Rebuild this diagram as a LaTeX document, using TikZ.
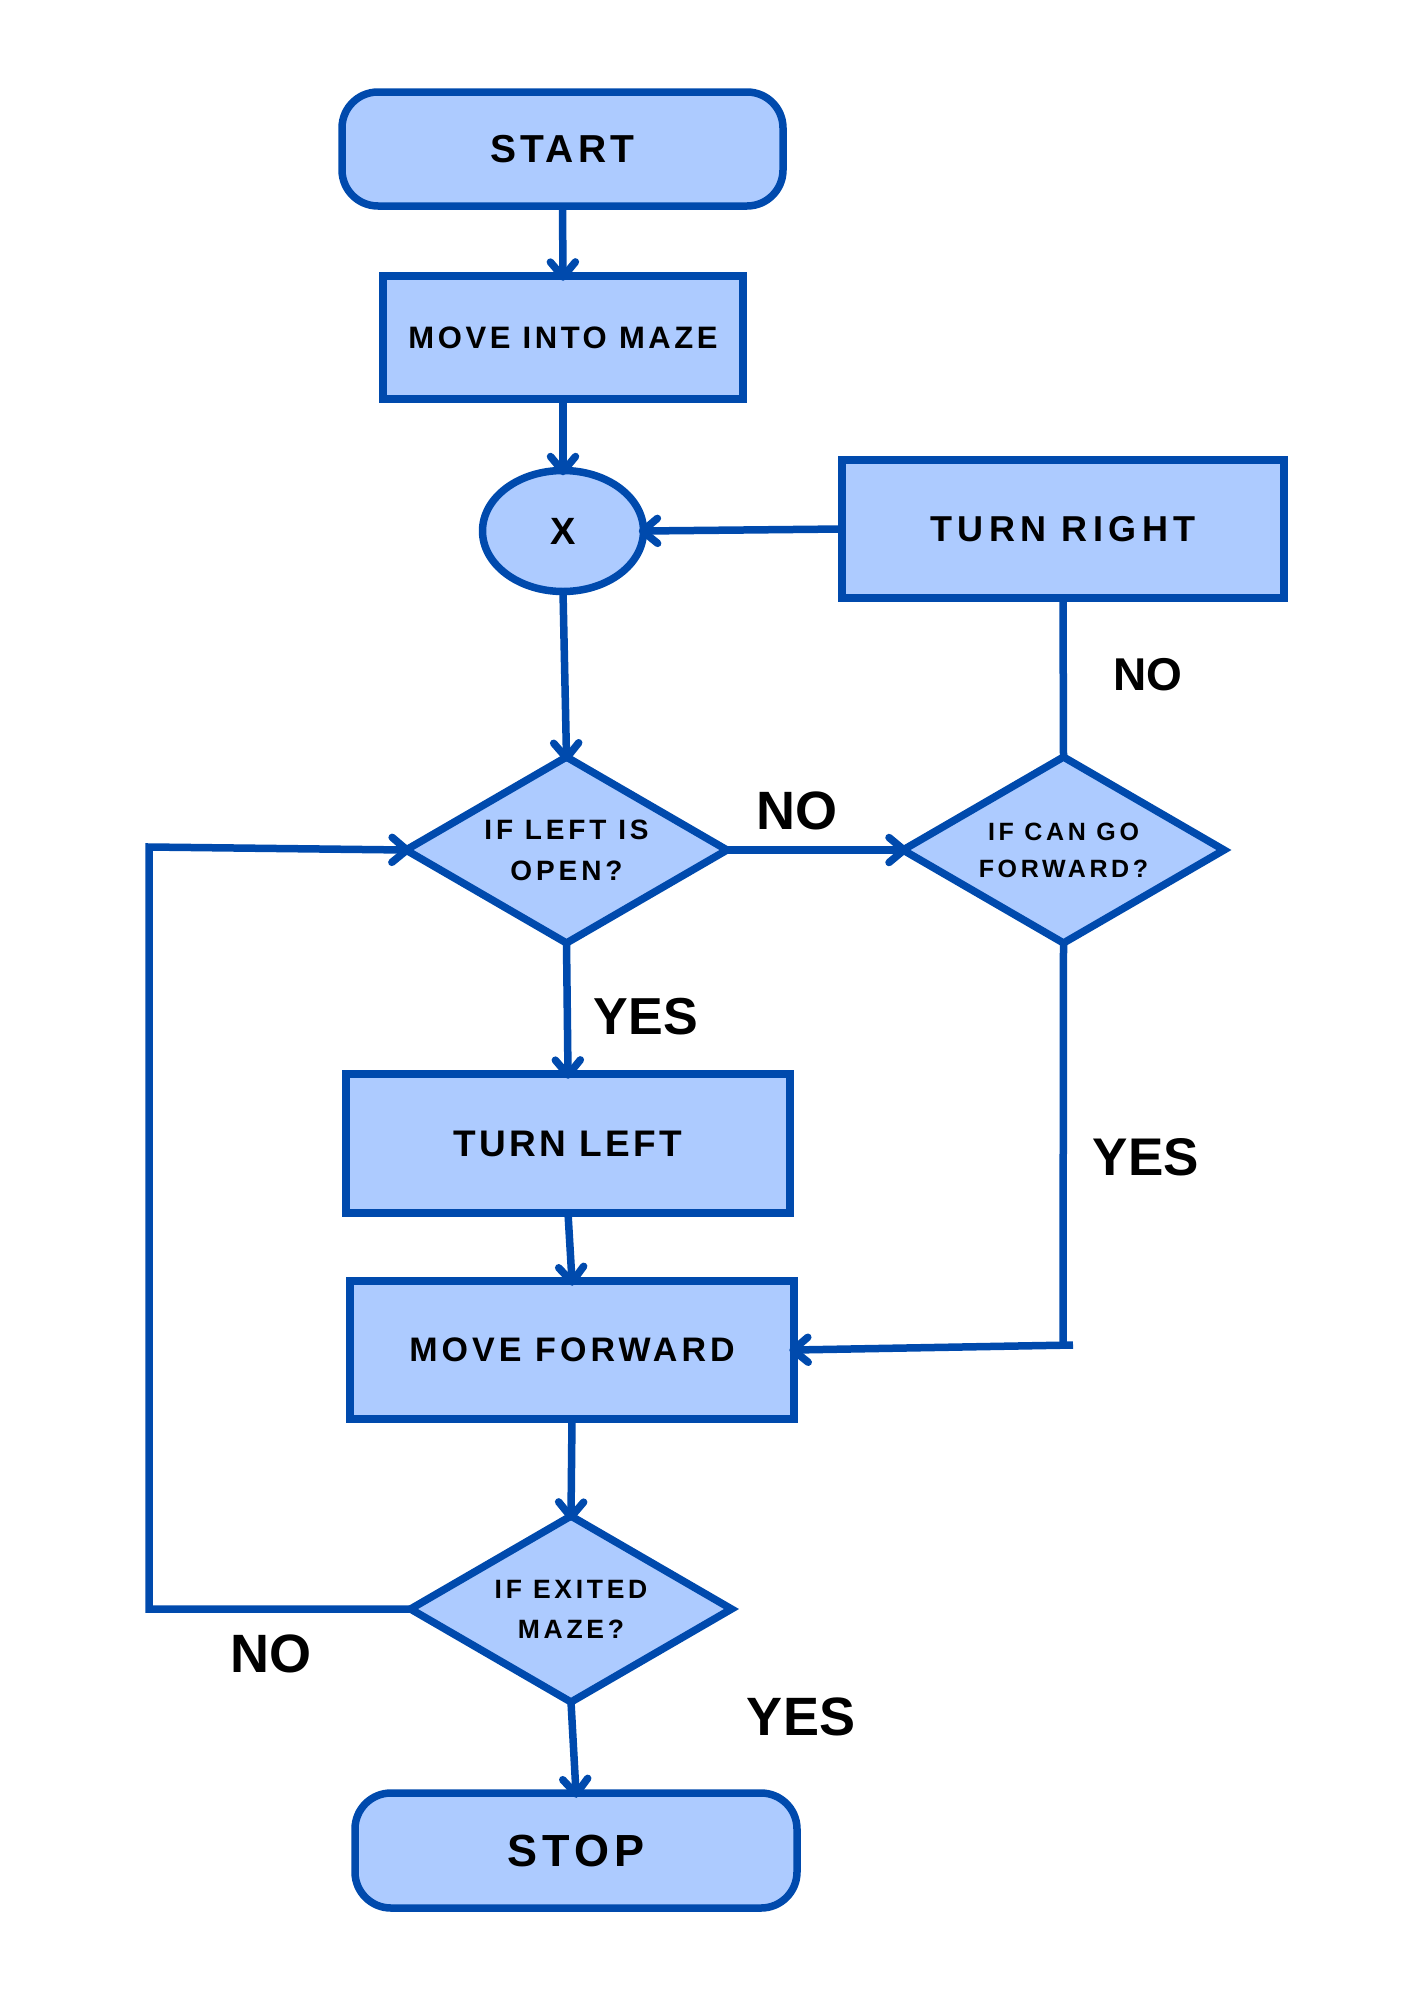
\documentclass[tikz,border=0pt]{standalone}
\usepackage{fontspec}
\setmainfont{Liberation Sans}
\usetikzlibrary{shapes.geometric,decorations.markings}
\definecolor{edgeblue}{RGB}{0,74,173}
\definecolor{boxfill}{RGB}{173,203,255}
\newcommand\fsz[2]{\fontsize{#1}{#2}\selectfont}
\newcommand\trk[1]{\addfontfeature{LetterSpace=#1}}
\begin{document}
\begin{tikzpicture}[x=1pt,y=-1pt,
  shp/.style={draw=edgeblue,fill=boxfill,line width=7.5pt,inner sep=0pt,outer sep=0pt,
    text=black,align=center},
  procbox/.style={shp,rectangle},
  termbox/.style={shp,rectangle,rounded corners=36pt},
  decbox/.style={shp,diamond,aspect=1.72,minimum width=321pt,minimum height=186pt},
  joinbox/.style={shp,ellipse,minimum width=161pt,minimum height=121pt},
  conn/.style={draw=edgeblue,line width=7.5pt},
  arr/.style={conn,postaction={decorate},
    decoration={markings,mark=at position 1 with {
      \draw[edgeblue,line width=7.5pt,line cap=round,line join=round]
        (-14pt,-12.5pt) -- (1pt,0pt) -- (-14pt,12.5pt);}}},
  lbl/.style={inner sep=0pt,text=black}
]
\useasboundingbox (0,0) rectangle (1414,2000);

% nodes
\node[termbox,minimum width=441pt,minimum height=114pt,
  font={\bfseries\trk{11}\fsz{39}{47}}] (start) at (562.5,149) {START};
\node[procbox,minimum width=360pt,minimum height=123pt,
  font={\bfseries\trk{11.5}\fsz{31}{37}}] (movein) at (563,337.5) {MOVE INTO MAZE};
\node[joinbox,font={\bfseries\fsz{38}{45}}] (xj) at (563,531) {X};
\node[procbox,minimum width=442pt,minimum height=138pt,
  font={\bfseries\trk{15}\fsz{36}{43}}] (turnright) at (1063,529) {TURN RIGHT};
\node[decbox,font={\bfseries\trk{14}\fsz{28}{40.7}}] (ifleft) at (566.5,850)
  {IF LEFT IS\\OPEN?};
\node[decbox,font={\bfseries\trk{14.5}\fsz{25}{37}}] (ifcan) at (1063.5,850)
  {IF CAN GO\\FORWARD?};
\node[procbox,minimum width=444pt,minimum height=139pt,
  font={\bfseries\trk{9}\fsz{37}{44}}] (turnleft) at (568,1143.5) {TURN LEFT};
\node[procbox,minimum width=444pt,minimum height=138pt,
  font={\bfseries\trk{12}\fsz{34}{41}}] (movefwd) at (572,1350) {MOVE FORWARD};
\node[decbox,font={\bfseries\trk{14}\fsz{26.5}{40}}] (ifexit) at (571,1609)
  {IF EXITED\\MAZE?};
\node[termbox,minimum width=442pt,minimum height=115pt,
  font={\bfseries\trk{11.5}\fsz{45}{54}}] (stop) at (576,1850.5) {STOP};

% labels
\node[lbl,font={\bfseries\fsz{46}{55}}] (lno1) at (1147.5,675) {NO};
\node[lbl,font={\bfseries\fsz{54}{64}}] (lno2) at (797,811) {NO};
\node[lbl,font={\bfseries\fsz{52}{62}}] (lyes1) at (646,1017) {YES};
\node[lbl,font={\bfseries\fsz{53}{63}}] (lyes2) at (1146,1157) {YES};
\node[lbl,font={\bfseries\fsz{54}{64}}] (lno3) at (271,1654) {NO};
\node[lbl,font={\bfseries\fsz{54}{64}}] (lyes3) at (801,1717) {YES};

% helper coordinates
\coordinate (rcorner) at (1063,1345);
\coordinate (rstart) at (1073,1345);
\coordinate (lbottom) at (149,1609);
\coordinate (ltop) at (149,847);

% connectors
\draw[arr] (start.south) -- (movein.north);
\draw[arr] (movein.south) -- (xj.north);
\draw[arr] (turnright.west) -- (xj.east);
\draw[arr] (xj.south) -- (ifleft.north);
\draw[arr] (ifleft.east) -- (ifcan.west);
\draw[conn] (ifcan.north) -- (turnright.south);
\draw[arr] (ifleft.south) -- (turnleft.north);
\draw[arr] (turnleft.south) -- (movefwd.north);
\draw[conn] (ifcan.south) -- (rcorner);
\draw[arr] (rstart) -- (movefwd.east);
\draw[arr] (movefwd.south) -- (ifexit.north);
\draw[arr] (ifexit.south) -- (stop.north);
\draw[arr] (ifexit.west) -- (lbottom) -- (ltop) -- (ifleft.west);
\end{tikzpicture}
\end{document}
